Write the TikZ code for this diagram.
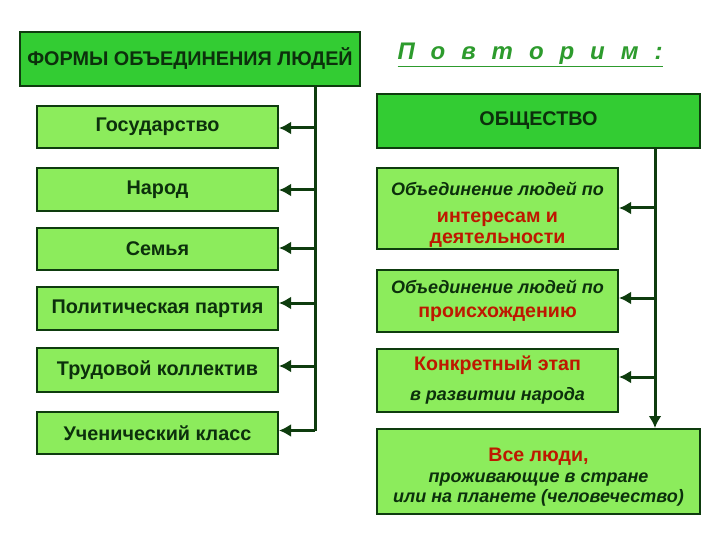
\documentclass[tikz,border=0pt]{standalone}
\usepackage{fontspec}
\setmainfont{Liberation Sans}
\usetikzlibrary{arrows.meta}
\definecolor{hdr}{RGB}{51,204,51}
\definecolor{lite}{RGB}{140,236,92}
\definecolor{edge}{RGB}{14,60,14}
\definecolor{dk}{RGB}{12,48,12}
\definecolor{rd}{RGB}{190,24,0}
\definecolor{ttl}{RGB}{45,155,45}
\tikzset{
  box/.style={draw=edge, line width=2pt, fill=lite, inner sep=0pt, text=dk, align=center, font=\bfseries\fontsize{19.8}{23}\selectfont},
  hbox/.style={box, fill=hdr},
  link/.style={draw=edge, line width=3pt},
  arr/.style={link, -{Latex[length=12pt,width=13pt]}},
}
\newcommand{\itl}{\bfseries\itshape\fontsize{18}{20.5}\selectfont\color{dk}}
\newcommand{\rdl}{\bfseries\fontsize{19.6}{21}\selectfont\color{rd}}
\begin{document}
\begin{tikzpicture}[x=1pt,y=-1pt]
\useasboundingbox[fill=white] (0,0) rectangle (720,540);
% left side
\node[hbox, minimum width=340pt, minimum height=54pt] (hl) at (190,59) {\fontsize{19.8}{23}\selectfont ФОРМЫ ОБЪЕДИНЕНИЯ ЛЮДЕЙ};
\node[box, minimum width=241pt, minimum height=42pt] (g) at (157.5,127) {Государство};
\node[box, minimum width=241pt, minimum height=43pt] (n) at (157.5,189.5) {Народ};
\node[box, minimum width=241pt, minimum height=42pt] (s) at (157.5,249) {Семья};
\node[box, minimum width=241pt, minimum height=43pt] (p) at (157.5,308.5) {Политическая партия};
\node[box, minimum width=241pt, minimum height=44pt] (t) at (157.5,370) {Трудовой коллектив};
\node[box, minimum width=241pt, minimum height=42pt] (u) at (157.5,433) {Ученический класс};
\coordinate (lt) at (315,86);
\coordinate (lb) at (315,430.5);
\draw[link] (lt) -- (lb);
\draw[arr] (lt |- 0,128) -- (g.east |- 0,128);
\draw[arr] (lt |- 0,190) -- (n.east |- 0,190);
\draw[arr] (lt |- 0,248) -- (s.east |- 0,248);
\draw[arr] (lt |- 0,303) -- (p.east |- 0,303);
\draw[arr] (lt |- 0,366) -- (t.east |- 0,366);
\draw[arr] (lb) -- (u.east |- lb);
% right side
\node[text=ttl, font=\bfseries\itshape\fontsize{24}{28}\selectfont, inner sep=0pt] (ti) at (530,55)
  {\underline{\makebox[265pt][s]{П\hfill о\hfill в\hfill т\hfill о\hfill р\hfill и\hfill м\hfill :}}};
\node[hbox, minimum width=323pt, minimum height=54pt] (ob) at (538.5,121) {ОБЩЕСТВО};
\node[box, minimum width=241pt, minimum height=81pt] (r1) at (497.5,208.5)
  {\rule{0pt}{26pt}{\itl Объединение людей по}\\[4pt]{\rdl интересам и}\\[-2pt]{\rdl деятельности}};
\node[box, minimum width=241pt, minimum height=62pt] (r2) at (497.5,301)
  {{\itl Объединение людей по}\\[1pt]{\rdl происхождению}};
\node[box, minimum width=241pt, minimum height=63pt] (r3) at (497.5,380.5)
  {{\rdl Конкретный этап}\\[7pt]{\itl в развитии народа}};
\node[box, minimum width=323pt, minimum height=85pt] (r4) at (538.5,471.5)
  {\rule{0pt}{24pt}{\rdl Все люди,}\\[-2pt]{\itl проживающие в стране}\\[-3pt]{\itl или на планете (человечество)}};
\coordinate (rt) at (655,148);
\draw[arr] (rt) -- (rt |- r4.north);
\draw[arr] (rt |- 0,208) -- (r1.east |- 0,208);
\draw[arr] (rt |- 0,298) -- (r2.east |- 0,298);
\draw[arr] (rt |- 0,377) -- (r3.east |- 0,377);
\end{tikzpicture}
\end{document}
